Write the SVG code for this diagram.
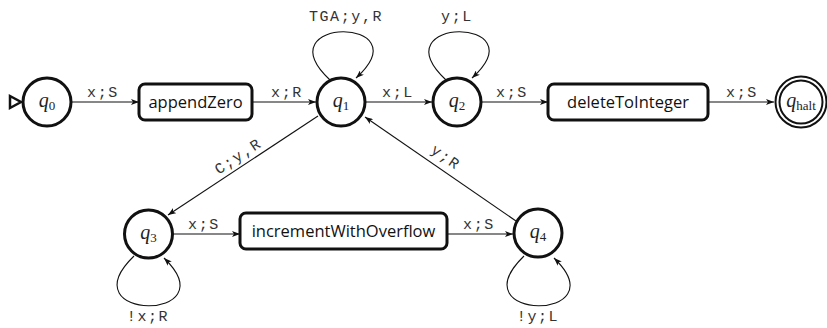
<svg xmlns="http://www.w3.org/2000/svg" width="827" height="328" viewBox="0 0 827 328">
<style>
.st{fill:#fff;stroke:#111;stroke-width:3}
.bx{fill:#fff;stroke:#111;stroke-width:3}
.e{fill:none;stroke:#111;stroke-width:1.1}
.lb{font-family:"Liberation Mono",monospace;font-size:15px;letter-spacing:1.6px;fill:#333;text-anchor:middle}
.bt{font-family:"Open Sans","Noto Sans",sans-serif;font-size:16.5px;fill:#111;text-anchor:middle}
.q{font-family:"Liberation Serif",serif;font-style:italic;font-size:20px;fill:#222;text-anchor:middle}
.sub{font-style:normal;font-size:13px}
</style>
<defs>
<marker id="arr" viewBox="0 0 8 6" refX="8" refY="3" markerWidth="8" markerHeight="6" markerUnits="userSpaceOnUse" orient="auto">
<path d="M0,0 L8,3 L0,6 L2,3 z" fill="#111"/>
</marker>
</defs>
<g id="connectors">
<path class="e" d="M72,102 H139" marker-end="url(#arr)"/>
<path class="e" d="M252,102 H316" marker-end="url(#arr)"/>
<path class="e" d="M366,102 H432" marker-end="url(#arr)"/>
<path class="e" d="M482,102 H548" marker-end="url(#arr)"/>
<path class="e" d="M708,102 H774" marker-end="url(#arr)"/>
<path class="e" d="M330,80 C262,16 424,16 356,78" marker-end="url(#arr)"/>
<path class="e" d="M446,80 C378,16 540,16 472,78" marker-end="url(#arr)"/>
<path class="e" d="M318,116 L168,215" marker-end="url(#arr)"/>
<path class="e" d="M516,221 L365,117" marker-end="url(#arr)"/>
<path class="e" d="M173,234 H240" marker-end="url(#arr)"/>
<path class="e" d="M447,234 H513" marker-end="url(#arr)"/>
<path class="e" d="M134,256 C66,322 230,322 164,258" marker-end="url(#arr)"/>
<path class="e" d="M524,256 C456,322 620,322 554,258" marker-end="url(#arr)"/>
<text class="lb" x="103" y="97">x;S</text>
<text class="lb" x="287" y="97">x;R</text>
<text class="lb" x="398" y="97">x;L</text>
<text class="lb" x="512" y="97">x;S</text>
<text class="lb" x="742" y="97">x;S</text>
<text class="lb" x="346" y="21">TGA;y,R</text>
<text class="lb" x="457" y="21">y;L</text>
<text class="lb" x="204" y="229">x;S</text>
<text class="lb" x="479" y="229">x;S</text>
<text class="lb" x="148" y="321">!x;R</text>
<text class="lb" x="538" y="321">!y;L</text>
<text class="lb" transform="translate(238,156) rotate(-33.5)" y="5">C;y,R</text>
<text class="lb" transform="translate(446,157) rotate(34.8)" y="5">y;R</text>
</g>
<g id="start">
<path d="M10,96 L21,102 L10,108 z" fill="#fff" stroke="#111" stroke-width="2.5" stroke-linejoin="miter"/>
</g>
<g id="q0"><circle class="st" cx="47" cy="102" r="24"/><text class="q" x="47" y="107">q<tspan class="sub" dy="3">0</tspan></text></g>
<g id="appendZero"><rect class="bx" x="139" y="84" width="113" height="36" rx="6"/><text class="bt" x="195.5" y="108">appendZero</text></g>
<g id="q1"><circle class="st" cx="341" cy="102" r="24"/><text class="q" x="341" y="107">q<tspan class="sub" dy="3">1</tspan></text></g>
<g id="q2"><circle class="st" cx="457" cy="102" r="24"/><text class="q" x="457" y="107">q<tspan class="sub" dy="3">2</tspan></text></g>
<g id="deleteToInteger"><rect class="bx" x="548" y="84" width="160" height="36" rx="6"/><text class="bt" x="628" y="108">deleteToInteger</text></g>
<g id="qhalt"><circle cx="801" cy="102" r="25.5" fill="#fff" stroke="#111" stroke-width="2"/><circle cx="801" cy="102" r="21.5" fill="none" stroke="#111" stroke-width="2"/><text class="q" x="801" y="107">q<tspan class="sub" dy="3">halt</tspan></text></g>
<g id="q3"><circle class="st" cx="148.5" cy="234" r="24"/><text class="q" x="148.5" y="239">q<tspan class="sub" dy="3">3</tspan></text></g>
<g id="incrementWithOverflow"><rect class="bx" x="240" y="213" width="207" height="36" rx="6"/><text class="bt" x="343.5" y="237">incrementWithOverflow</text></g>
<g id="q4"><circle class="st" cx="538" cy="233" r="24"/><text class="q" x="538" y="238">q<tspan class="sub" dy="3">4</tspan></text></g>
</svg>
